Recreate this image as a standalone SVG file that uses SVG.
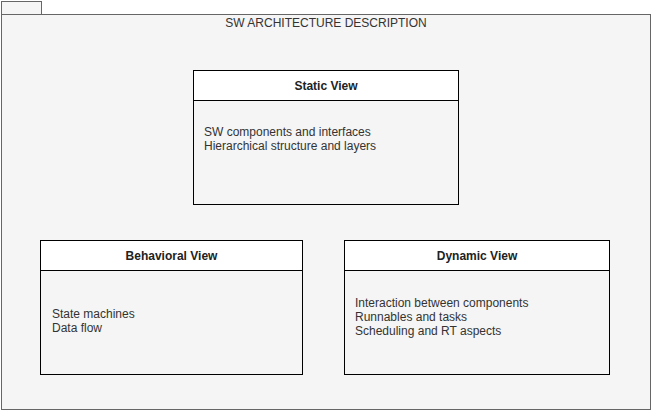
<svg xmlns="http://www.w3.org/2000/svg" width="652" height="411" viewBox="0 0 652 411">
<style>
.pkg{fill:#f5f5f5;stroke:#666666;stroke-width:1}
.box{fill:#f5f5f5;stroke:#000000;stroke-width:1}
.hdr{fill:#ffffff;stroke:#000000;stroke-width:1}
text{font-family:"Liberation Sans",Arial,sans-serif;font-size:12px;fill:#333333}
.t{text-anchor:middle}
.b{font-weight:bold;fill:#222222}
</style>
<rect width="652" height="411" fill="#ffffff"/>
<g id="package">
<rect class="pkg" x="1.5" y="1.5" width="40" height="13"/>
<rect class="pkg" x="1.5" y="14.5" width="649" height="395"/>
<text class="t" x="326" y="27">SW ARCHITECTURE DESCRIPTION</text>
</g>
<g id="static-view">
<rect class="box" x="193.5" y="70.5" width="265" height="134"/>
<rect class="hdr" x="193.5" y="70.5" width="265" height="30"/>
<text class="t b" x="326" y="90">Static View</text>
<text x="204" y="136">SW components and interfaces</text>
<text x="204" y="150">Hierarchical structure and layers</text>
</g>
<g id="behavioral-view">
<rect class="box" x="40.5" y="240.5" width="262" height="134"/>
<rect class="hdr" x="40.5" y="240.5" width="262" height="30"/>
<text class="t b" x="171.5" y="260">Behavioral View</text>
<text x="52" y="318">State machines</text>
<text x="52" y="332">Data flow</text>
</g>
<g id="dynamic-view">
<rect class="box" x="344.5" y="240.5" width="265" height="134"/>
<rect class="hdr" x="344.5" y="240.5" width="265" height="30"/>
<text class="t b" x="477" y="260">Dynamic View</text>
<text x="355" y="307">Interaction between components</text>
<text x="355" y="321">Runnables and tasks</text>
<text x="355" y="335">Scheduling and RT aspects</text>
</g>
<g id="connectors"></g>
</svg>
